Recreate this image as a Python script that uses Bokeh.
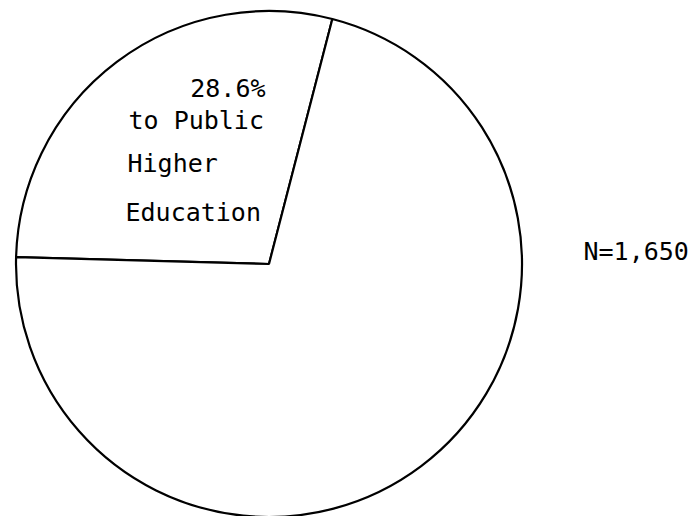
import numpy as np
from bokeh.plotting import figure
from bokeh.models import Range1d, ColumnDataSource
from bokeh.core.properties import value
from bokeh.embed import file_html
from bokeh.resources import INLINE

# Data
categories = ["to Public Higher Education", "Other"]
shares = [28.6, 71.4]
n_label = "N=1,650"
slice_label = ["28.6%", "to Public", "Higher", "Education"]

W, H = 696, 516
p = figure(width=W, height=H, output_backend="svg", toolbar_location=None,
           x_range=Range1d(0, W), y_range=Range1d(0, H), min_border=0)
p.axis.visible = False
p.grid.visible = False
p.outline_line_color = None
p.background_fill_color = "white"
p.border_fill_color = "white"

cx, cy, r = 268.5, H - 263.5, 253
start_offset = np.deg2rad(75.5)
fr = np.array(shares) / 100.0 * 2 * np.pi
ends = start_offset + np.cumsum(fr)
starts = ends - fr
src = ColumnDataSource(dict(start=starts, end=ends, cat=categories))
p.wedge(x=cx, y=cy, radius=r, start_angle="start", end_angle="end",
        direction="anticlock", source=src, fill_color="white",
        line_color="black", line_width=2.2)

font = value("DejaVu Sans Mono")
p.text(x=[265], y=[H - 88], text=[slice_label[0]], text_font=font,
       text_font_size="25px", text_align="right", text_baseline="alphabetic",
       text_color="black")
p.text(x=[128, 127, 125], y=[H - 120, H - 163, H - 212],
       text=slice_label[1:], text_font=font, text_font_size="25px",
       text_align="left", text_baseline="alphabetic", text_color="black")
p.text(x=[583], y=[H - 251], text=[n_label], text_font=font,
       text_font_size="25px", text_align="left", text_baseline="alphabetic",
       text_color="black")

open("out.html", "w").write(file_html(p, INLINE))
